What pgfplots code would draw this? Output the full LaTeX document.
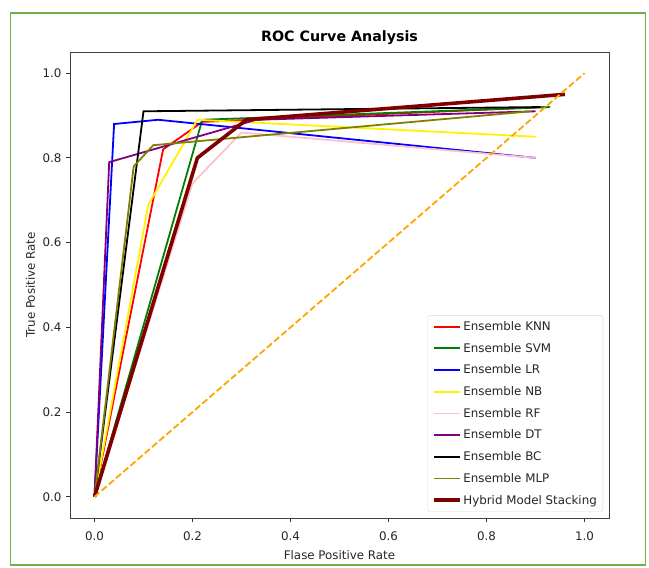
\documentclass[border=0pt]{standalone}
\usepackage{fontspec}
\setmainfont{DejaVu Sans}
\usepackage{pgfplots}
\pgfplotsset{compat=1.18}
\definecolor{mplgreen}{RGB}{0,128,0}
\definecolor{mplpink}{RGB}{255,192,203}
\definecolor{mplpurple}{RGB}{128,0,128}
\definecolor{mplolive}{RGB}{128,128,0}
\definecolor{mplmaroon}{RGB}{128,0,0}
\definecolor{mplorange}{RGB}{255,165,0}
\definecolor{frameGreen}{RGB}{112,173,71}
\begin{document}
\begin{tikzpicture}[x=1bp,y=1bp]
\useasboundingbox (0,0) rectangle (649,568);
\draw[color=frameGreen, line width=1.8bp] (10.5,3) rectangle (645.5,555.3);
\begin{axis}[
  at={(70bp,50bp)}, anchor=south west,
  scale only axis, width=539bp, height=466bp,
  xmin=-0.05, xmax=1.05, ymin=-0.05, ymax=1.05,
  xtick={0,0.2,0.4,0.6,0.8,1.0}, ytick={0,0.2,0.4,0.6,0.8,1.0},
  xticklabels={0.0,0.2,0.4,0.6,0.8,1.0},
  yticklabels={0.0,0.2,0.4,0.6,0.8,1.0},
  tick align=outside, tick pos=left,
  major tick length=4.2bp,
  every tick/.style={black!80, line width=0.9bp},
  axis line style={black!75, line width=0.9bp},
  tick label style={font=\fontsize{11.9}{14}\selectfont, text=black!85},
  xticklabel style={anchor=base, inner sep=0pt, yshift=-18bp},
  yticklabel style={anchor=east, inner sep=0pt, xshift=-4.2bp},
  title={ROC Curve Analysis},
  title style={at={(axis description cs:0.5,1.0098)}, anchor=base, font=\bfseries\fontsize{14.3}{17}\selectfont},
  xlabel={Flase Positive Rate},
  xlabel style={at={(axis description cs:0.5,-0.088)}, anchor=base, font=\fontsize{11.9}{14}\selectfont, text=black!85},
  ylabel={True Positive Rate},
  ylabel style={at={(axis description cs:-0.065,0.5)}, anchor=base, font=\fontsize{11.9}{14}\selectfont, text=black!85},
  legend style={at={(1,0)}, anchor=south east, xshift=-6bp, yshift=6.3bp,
    draw=black!15, rounded corners=2bp, fill=white,
    font=\fontsize{11.9}{14}\selectfont, text=black!85,
    row sep=8.2bp, inner xsep=4.5bp, inner ysep=4.5bp,
    nodes={inner sep=1.5bp}},
  legend cell align=left,
  legend image code/.code={\draw[#1] (0bp,0bp) -- (26bp,0bp);},
]
\addplot[red, line width=1.8bp] coordinates {(0,0) (0.14,0.82) (0.22,0.885) (0.92,0.92)};
\addlegendentry{Ensemble KNN}
\addplot[mplgreen, line width=1.8bp] coordinates {(0,0) (0.22,0.89) (0.93,0.92)};
\addlegendentry{Ensemble SVM}
\addplot[blue, line width=1.8bp] coordinates {(0,0) (0.04,0.88) (0.13,0.89) (0.9,0.80)};
\addlegendentry{Ensemble LR}
\addplot[yellow, line width=1.8bp] coordinates {(0,0) (0.11,0.69) (0.21,0.89) (0.9,0.85)};
\addlegendentry{Ensemble NB}
\addplot[mplpink, line width=1.8bp] coordinates {(0,0) (0.2,0.74) (0.3,0.86) (0.9,0.80)};
\addlegendentry{Ensemble RF}
\addplot[mplpurple, line width=1.8bp] coordinates {(0,0) (0.03,0.79) (0.33,0.89) (0.9,0.91)};
\addlegendentry{Ensemble DT}
\addplot[black, line width=1.8bp] coordinates {(0,0) (0.1,0.91) (0.91,0.92)};
\addlegendentry{Ensemble BC}
\addplot[mplolive, line width=1.8bp] coordinates {(0,0) (0.08,0.78) (0.12,0.83) (0.89,0.91)};
\addlegendentry{Ensemble MLP}
\addplot[mplmaroon, line width=3.6bp] coordinates {(0,0) (0.21,0.80) (0.31,0.89) (0.96,0.95)};
\addlegendentry{Hybrid Model Stacking}
\addplot[mplorange, line width=1.8bp, dash pattern=on 6.6bp off 2.9bp, forget plot] coordinates {(0,0) (1,1)};
\end{axis}
\end{tikzpicture}
\end{document}
